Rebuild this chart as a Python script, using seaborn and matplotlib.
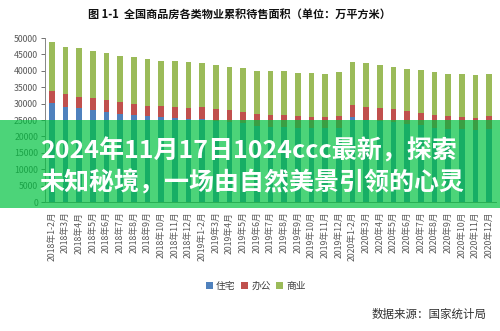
import numpy as np
import pandas as pd
import matplotlib
matplotlib.use("Agg")
import matplotlib.pyplot as plt
import seaborn as sns
from matplotlib.patches import Rectangle, Patch

months = ["1-2月", "3月", "4月", "5月", "6月", "7月", "8月", "9月", "10月", "11月", "12月"]
categories = [f"{y}年{m}" for y in (2018, 2019, 2020) for m in months]

residential = [30080, 29070, 28560, 28050, 27540, 26830, 26520, 26220, 25810, 25510, 25200,
               25250, 24750, 24450, 23940, 23230, 22920, 22920, 22620, 22420, 22420, 22620,
               25800, 24950, 24700, 24250, 23800, 23350, 22700, 22400, 22200, 21900, 22400]
office = [3760, 3760, 3550, 3760, 3560, 3660, 3460, 3150, 3460, 3560, 3560,
          3820, 3600, 3600, 3600, 3600, 3600, 3600, 3600, 3600, 3600, 3700,
          3670, 4120, 4060, 4000, 3940, 3880, 3820, 3820, 3820, 3810, 3820]
commercial = [14850, 14520, 14740, 14320, 14230, 14110, 14120, 14230, 13810, 14010, 13830,
              13210, 13520, 13210, 13210, 13210, 13320, 13320, 13110, 13310, 13000, 13310,
              13120, 13210, 13010, 13010, 12810, 13010, 13110, 12800, 13000, 13010, 12800]

series_names = ["住宅", "办公", "商业"]
colors = ["#4F81BD", "#C0504D", "#9BBB59"]
title = "图 1-1  全国商品房各类物业累积待售面积（单位：万平方米）"
source = "数据来源：国家统计局"
banner_lines = ["2024年11月17日1024ccc最新，探索", "未知秘境，一场由自然美景引领的心灵"]

sns.set_theme(style="white")
plt.rcParams['font.family'] = ['Noto Sans CJK SC', 'DejaVu Sans']

df = pd.DataFrame({"cat": categories, "res": residential, "off": office, "com": commercial})
df["lvl2"] = df["res"] + df["off"]
df["lvl3"] = df["lvl2"] + df["com"]

W, H = 500, 331
fig = plt.figure(figsize=(W / 100, H / 100), dpi=100)
fig.patch.set_facecolor("white")
ax = fig.add_axes([45 / W, 1 - 202 / H, 451 / W, 164 / H])
ax.set_facecolor("white")

sns.barplot(data=df, x="cat", y="lvl3", color=colors[2], width=0.4, ax=ax, saturation=1, linewidth=0)
sns.barplot(data=df, x="cat", y="lvl2", color=colors[1], width=0.4, ax=ax, saturation=1, linewidth=0)
sns.barplot(data=df, x="cat", y="res", color=colors[0], width=0.4, ax=ax, saturation=1, linewidth=0)

ax.set_xlim(-0.5, len(categories) - 0.5)
ax.set_ylim(0, 50000)
ax.set_yticks(np.arange(0, 50001, 5000))
ax.set_yticklabels([str(v) for v in range(0, 50001, 5000)])
ax.set_xlabel("")
ax.set_ylabel("")
ax.tick_params(axis="y", labelsize=6.3, colors="#595959", length=3, width=0.6, pad=2, left=True)
ax.tick_params(axis="x", labelsize=6.3, colors="#595959", length=0, pad=7, rotation=90)
for s in ["top", "right"]:
    ax.spines[s].set_visible(False)
for s in ["left", "bottom"]:
    ax.spines[s].set_color("#868686")
    ax.spines[s].set_linewidth(0.7)

fig.text(239 / W, 1 - 14 / H, title, ha="center", va="center", fontsize=8, fontweight="bold", color="#111111")

handles = [Patch(facecolor=c, edgecolor="none", label=n) for c, n in zip(colors, series_names)]
fig.legend(handles=handles, loc="center", bbox_to_anchor=(256 / W, 1 - 286 / H), ncol=3, frameon=False,
           fontsize=7, handlelength=0.7, handleheight=0.7, handletextpad=0.3, columnspacing=0.6,
           labelcolor="#404040")

fig.text(487 / W, 1 - 314 / H, source, ha="right", va="center", fontsize=8.3, color="#333333")

fig.add_artist(Rectangle((0, 1 - 208 / H), 1, 88 / H, transform=fig.transFigure,
                         facecolor=(0.0, 0.76, 0.25), alpha=0.7, edgecolor="none", zorder=10))
fig.text(40 / W, 1 - 151 / H, banner_lines[0], ha="left", va="center", fontsize=18,
         fontweight="bold", color="white", zorder=11)
fig.text(40 / W, 1 - 183 / H, banner_lines[1], ha="left", va="center", fontsize=18,
         fontweight="bold", color="white", zorder=11)

fig.savefig("out.png", dpi=100)
